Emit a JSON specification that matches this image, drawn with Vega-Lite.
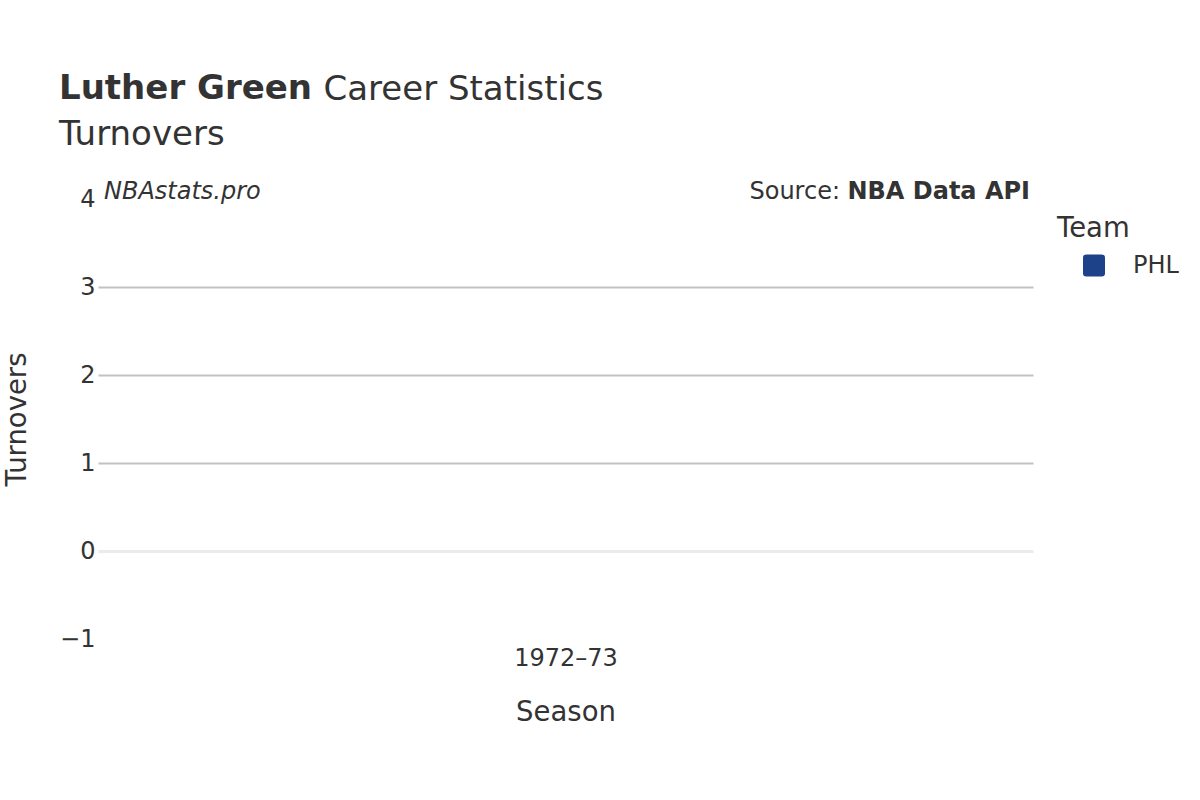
{
  "$schema": "https://vega.github.io/schema/vega-lite/v6.json",
  "width": 935,
  "height": 440,
  "autosize": {"type": "none"},
  "padding": {"left": 98, "top": 199, "right": 167, "bottom": 161},
  "background": "white",
  "config": {"font": "DejaVu Sans", "view": {"stroke": null}},
  "title": {
    "text": "Luther Green",
    "subtitle": "Turnovers",
    "anchor": "start",
    "frame": "group",
    "dx": -39,
    "offset": -80,
    "fontSize": 34,
    "fontWeight": "bold",
    "color": "#333333",
    "subtitleFontSize": 34,
    "subtitleFontWeight": "normal",
    "subtitleColor": "#333333",
    "subtitlePadding": 12
  },
  "datasets": {
    "stats": [{"Season": "1972–73", "Team": "PHL", "Turnovers": null}]
  },
  "data": {"name": "stats"},
  "resolve": {"axis": {"x": "independent"}},
  "layer": [
    {
      "mark": {"type": "point", "filled": true, "size": 100, "opacity": 1},
      "encoding": {
        "x": {
          "field": "Season",
          "type": "nominal",
          "scale": {"type": "point", "domain": ["1972–73"]},
          "axis": {
            "orient": "bottom",
            "title": "Season",
            "labelAngle": 0,
            "ticks": false,
            "domain": false,
            "grid": false,
            "labelFontSize": 24,
            "labelColor": "#333333",
            "labelPadding": 7,
            "titleFontSize": 27.5,
            "titleFontWeight": "normal",
            "titleColor": "#333333",
            "titlePadding": 28
          }
        },
        "y": {
          "field": "Turnovers",
          "type": "quantitative",
          "scale": {"domain": [-1, 4], "nice": false, "zero": false},
          "axis": {
            "title": "Turnovers",
            "values": [-1, 0, 1, 2, 3, 4],
            "format": "d",
            "ticks": false,
            "domain": false,
            "labelFlush": false,
            "labelOverlap": false,
            "labelFontSize": 24,
            "labelColor": "#333333",
            "labelPadding": 3,
            "titleFontSize": 27.5,
            "titleFontWeight": "normal",
            "titleColor": "#333333",
            "titlePadding": 28,
            "gridColor": {"condition": {"test": "datum.value === 0", "value": "#ebebeb"}, "value": "#c2c2c2"},
            "gridWidth": {"condition": {"test": "datum.value === 0", "value": 3}, "value": 1.8},
            "gridOpacity": {"condition": {"test": "datum.value < -0.5 || datum.value > 3.5", "value": 0}, "value": 1}
          }
        },
        "color": {
          "field": "Team",
          "type": "nominal",
          "scale": {"domain": ["PHL"], "range": ["#1D428A"]},
          "legend": {
            "orient": "none",
            "legendX": 959,
            "legendY": 16,
            "title": "Team",
            "titleFontSize": 27.5,
            "titleFontWeight": "normal",
            "titleColor": "#333333",
            "titlePadding": 11,
            "labelFontSize": 24,
            "labelColor": "#333333",
            "labelOffset": 27,
            "symbolType": "M-0.7,-1L0.7,-1Q1,-1 1,-0.7L1,0.7Q1,1 0.7,1L-0.7,1Q-1,1 -1,0.7L-1,-0.7Q-1,-1 -0.7,-1Z",
            "symbolSize": 484,
            "symbolOffset": 25,
            "symbolStrokeWidth": 0,
            "symbolOpacity": 1,
            "padding": 0
          }
        }
      }
    },
    {
      "mark": {"type": "point", "opacity": 0},
      "encoding": {
        "x": {
          "field": "Season",
          "type": "nominal",
          "axis": {
            "orient": "top",
            "labels": false,
            "ticks": false,
            "domain": false,
            "grid": false,
            "title": "Career Statistics",
            "titleX": 225,
            "titleY": -100,
            "titleAngle": 0,
            "titleAlign": "left",
            "titleBaseline": "alphabetic",
            "titleFontSize": 34,
            "titleFontWeight": "normal",
            "titleColor": "#333333"
          }
        },
        "y": {"field": "Turnovers", "type": "quantitative"}
      }
    },
    {
      "mark": {"type": "text", "align": "left", "baseline": "alphabetic", "fontSize": 24, "fontStyle": "italic", "color": "#333333"},
      "encoding": {
        "x": {"value": 6},
        "y": {"datum": 4},
        "text": {"value": "NBAstats.pro"}
      }
    },
    {
      "mark": {"type": "text", "align": "right", "baseline": "alphabetic", "fontSize": 24, "color": "#333333"},
      "encoding": {
        "x": {"value": 742},
        "y": {"datum": 4},
        "text": {"value": "Source:"}
      }
    },
    {
      "mark": {"type": "text", "align": "right", "baseline": "alphabetic", "fontSize": 24, "fontWeight": "bold", "color": "#333333"},
      "encoding": {
        "x": {"value": 932},
        "y": {"datum": 4},
        "text": {"value": "NBA Data API"}
      }
    }
  ]
}
